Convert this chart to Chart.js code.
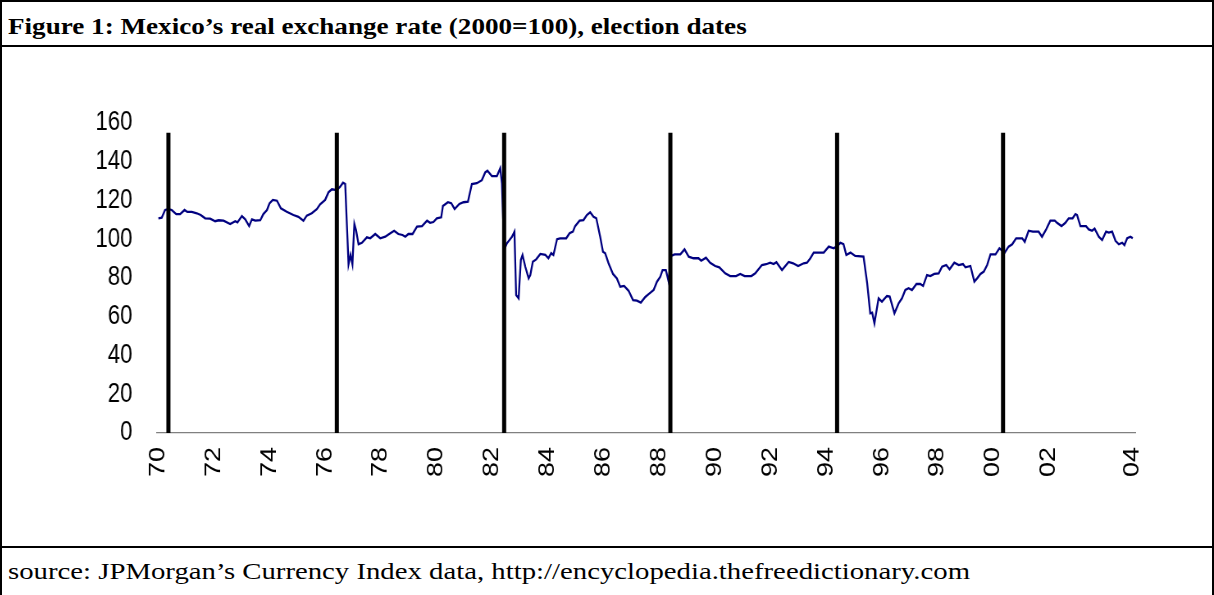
<!DOCTYPE html>
<html><head><meta charset="utf-8">
<script src="https://cdn.jsdelivr.net/npm/chart.js@4.4.1/dist/chart.umd.min.js"></script>
<style>
html,body{margin:0;padding:0;background:#fff;overflow:hidden;}
#frame{position:absolute;left:0;top:0;width:1214px;height:600px;box-sizing:border-box;border:2px solid #000;}
.rule{position:absolute;left:0;width:1214px;height:2px;background:#000;}
#title{position:absolute;left:8px;top:13px;font:bold 24px "Liberation Serif","Times New Roman",serif;color:#000;white-space:nowrap;transform:scaleX(1.13);transform-origin:0 0;}
#source{position:absolute;left:8px;top:559px;font:23px "Liberation Serif","Times New Roman",serif;color:#000;white-space:nowrap;transform:scaleX(1.25);transform-origin:0 0;}
#wrap{position:absolute;left:2px;top:47px;width:1476px;height:499px;transform:scaleX(0.82);transform-origin:0 0;}
</style></head>
<body>
<div id="frame"></div>
<div class="rule" style="top:45px"></div>
<div class="rule" style="top:546px"></div>
<div id="title">Figure 1: Mexico’s real exchange rate (2000=100), election dates</div>
<div id="source">source: JPMorgan’s Currency Index data, http://encyclopedia.thefreedictionary.com</div>
<div id="wrap"><canvas id="c" width="1476" height="499"></canvas></div>
<script>
// Decimal-year dates of the readings and the real exchange rate index (2000=100)
const dates = [
1970.01,1970.13,1970.25,1970.37,1970.49,1970.65,1970.79,1970.95,1971.05,1971.21,1971.39,1971.53,1971.69,1971.87,
1972.05,1972.17,1972.35,1972.59,1972.77,1972.85,1973.01,1973.13,1973.27,1973.37,1973.49,1973.67,1973.78,1973.91,
1974.00,1974.12,1974.27,1974.41,1974.62,1974.86,1975.04,1975.22,1975.34,1975.52,1975.70,1975.82,
1976.00,1976.12,1976.24,1976.42,1976.54,1976.64,1976.72,1976.84,1976.91,1976.98,1977.05,1977.11,1977.20,1977.32,
1977.50,1977.62,1977.80,1977.98,1978.16,1978.30,1978.48,1978.63,1978.78,1978.88,1978.99,1979.14,1979.30,1979.48,
1979.66,1979.77,1979.89,1980.01,1980.17,1980.23,1980.41,1980.53,1980.65,1980.82,1980.97,1981.13,1981.27,1981.45,
1981.63,1981.75,1981.83,1981.99,1982.17,1982.29,1982.35,1982.43,1982.53,1982.71,1982.80,1982.86,1982.95,1983.03,
1983.09,1983.19,1983.31,1983.37,1983.46,1983.58,1983.73,1983.91,1984.02,1984.12,1984.20,1984.33,1984.44,1984.66,
1984.78,1984.90,1984.98,1985.14,1985.28,1985.40,1985.52,1985.64,1985.74,1985.88,1985.98,1986.06,1986.18,1986.34,
1986.48,1986.60,1986.74,1986.90,1987.06,1987.20,1987.34,1987.50,1987.62,1987.80,1987.92,1988.04,1988.12,1988.24,
1988.34,1988.43,1988.55,1988.76,1988.91,1989.06,1989.23,1989.41,1989.51,1989.68,1989.83,1990.01,1990.16,1990.37,
1990.55,1990.76,1990.91,1991.07,1991.31,1991.45,1991.69,1991.84,1991.99,1992.11,1992.21,1992.41,1992.65,1992.81,
1992.99,1993.19,1993.31,1993.43,1993.55,1993.91,1994.09,1994.27,1994.39,1994.51,1994.62,1994.72,1994.87,1995.04,
1995.34,1995.47,1995.58,1995.65,1995.73,1995.88,1996.00,1996.18,1996.28,1996.45,1996.60,1996.72,1996.84,1996.96,
1997.08,1997.24,1997.38,1997.48,1997.62,1997.74,1997.88,1998.04,1998.16,1998.31,1998.43,1998.60,1998.76,1998.91,
1999.00,1999.18,1999.32,1999.42,1999.54,1999.66,1999.78,1999.90,2000.08,2000.22,2000.41,2000.55,2000.68,2000.82,
2001.04,2001.13,2001.27,2001.42,2001.63,2001.75,2001.90,2002.05,2002.21,2002.29,2002.45,2002.59,2002.71,2002.85,
2002.95,2003.01,2003.13,2003.33,2003.43,2003.55,2003.64,2003.79,2003.91,2004.05,2004.15,2004.27,2004.39,2004.51,
2004.63,2004.71,2004.81,2004.93,2005.01
];
const rer = [
110.8,111.1,115.1,115.5,115.1,113.0,113.0,115.1,114.1,114.1,113.4,112.5,110.8,110.6,
109.3,109.8,109.6,107.9,109.3,108.7,112.0,110.3,106.8,110.3,109.6,109.8,113.0,115.1,
118.5,120.3,119.9,116.0,114.2,112.5,111.6,109.6,112.2,113.4,115.5,118.0,
120.3,124.2,125.8,125.4,127.1,129.2,128.5,87.1,91.9,87.1,107.9,104.8,97.4,98.2,
101.0,100.5,102.7,100.5,101.3,102.7,104.4,102.7,102.2,101.3,102.7,102.7,106.5,106.8,
109.6,108.5,108.9,110.8,111.3,117.2,119.1,118.6,115.6,118.2,119.1,119.4,128.5,128.9,
130.5,134.5,135.4,132.6,132.6,136.6,128.9,94.5,97.9,101.3,103.9,71.2,69.5,89.3,
91.9,85.8,79.8,81.5,88.4,89.6,92.4,91.9,90.2,92.8,91.9,100.0,100.5,100.5,
103.1,103.9,106.8,109.6,109.9,112.5,113.9,111.6,110.8,101.3,93.6,92.8,87.6,82.1,
79.8,75.5,75.9,73.4,68.6,68.3,67.3,70.2,71.7,73.8,78.1,80.7,84.1,84.1,
78.1,91.4,92.2,92.2,94.8,91.0,90.2,90.2,88.9,90.5,87.9,86.2,85.5,82.4,
81.0,81.0,82.1,81.0,81.0,82.4,86.7,87.1,87.9,87.2,88.1,84.1,88.3,87.6,
86.2,87.6,87.9,90.2,93.1,93.1,96.2,95.3,96.5,98.2,97.5,91.9,93.1,91.4,
91.0,77.3,61.8,62.1,56.6,69.5,67.8,70.7,70.4,61.8,66.9,69.5,73.8,74.7,
73.8,76.9,76.9,75.9,81.5,81.0,82.1,82.4,85.8,86.7,84.5,87.9,86.7,87.2,
85.5,86.2,78.1,79.8,82.1,83.3,86.7,92.2,92.2,95.3,93.1,96.2,97.4,100.5,
100.5,98.7,104.4,103.9,103.9,101.3,105.1,109.6,109.6,108.5,106.8,108.5,110.8,110.8,
113.0,112.5,106.8,106.8,105.1,104.4,105.5,101.3,99.6,103.9,103.4,103.9,99.2,97.4,
98.2,97.0,100.5,101.3,100.5
];
// Presidential election dates (decimal years) and height of the marker bars
const electionDates = [1970.37, 1976.42, 1982.43, 1988.40, 1994.39, 2000.35];
const electionBarHeight = 155;
// Axis tick labels
const xTickLabels = ['70','72','74','76','78','80','82','84','86','88','90','92','94','96','98','00','02','04'];
const yTicks = [0,20,40,60,80,100,120,140,160];

const seriesData = dates.map((d,i)=>({x:d,y:rer[i]}));
const electionSets = electionDates.map(d=>({
  data:[{x:d,y:0},{x:d,y:electionBarHeight}],
  borderColor:'#000',borderWidth:5,pointRadius:0,borderCapStyle:'butt',tension:0
}));
const tickFont = {family:'"Liberation Sans", Arial, sans-serif', size:27};

new Chart(document.getElementById('c'),{
  type:'line',
  data:{datasets:[...electionSets,{
    data:seriesData,borderColor:'#000080',borderWidth:2.3,pointRadius:0,tension:0
  }]},
  options:{
    responsive:false,animation:false,devicePixelRatio:1,
    layout:{padding:{left:0,top:76,right:94,bottom:0}},
    plugins:{legend:{display:false},tooltip:{enabled:false}},
    scales:{
      x:{type:'linear',min:1969.96,max:2005.1,
        grid:{display:false,drawTicks:false},
        border:{display:true,color:'#808080',width:1.2},
        afterBuildTicks:(s)=>{s.ticks=xTickLabels.map((l,i)=>({value: i<xTickLabels.length-1 ? 1970+2*i : dates[dates.length-1]}));},
        afterFit:(s)=>{s.height=113;},
        ticks:{autoSkip:false,maxRotation:90,minRotation:90,padding:14,color:'#000',font:tickFont,
          callback:(v,i)=>xTickLabels[i]}
      },
      y:{min:yTicks[0],max:yTicks[yTicks.length-1],
        grid:{display:false,drawTicks:false},
        border:{display:false},
        afterBuildTicks:(s)=>{s.ticks=yTicks.map(v=>({value:v}));},
        afterFit:(s)=>{s.width=189;},
        ticks:{padding:30,color:'#000',font:tickFont}
      }
    }
  }
});
</script>
</body></html>
